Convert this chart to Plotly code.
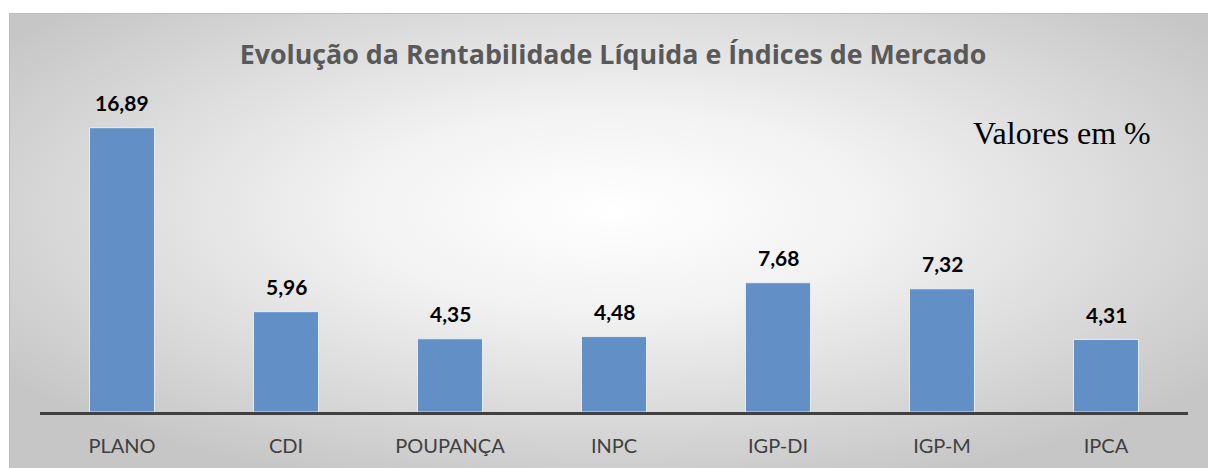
import base64
import plotly.graph_objects as go

categories = ["PLANO", "CDI", "POUPANÇA", "INPC", "IGP-DI", "IGP-M", "IPCA"]
values = [16.89, 5.96, 4.35, 4.48, 7.68, 7.32, 4.31]
title_text = "Evolução da Rentabilidade Líquida e Índices de Mercado"
note_text = "Valores em %"

W, H = 1208, 468
ML, MR, MT, MB = 40, 20, 109, 56
PW, PH = W - ML - MR, H - MT - MB

svg = f'''<svg xmlns="http://www.w3.org/2000/svg" width="{W}" height="{H}" viewBox="0 0 {W} {H}" preserveAspectRatio="none">
<defs><radialGradient id="g" cx="0.5" cy="0.42" r="0.62" fx="0.5" fy="0.42">
<stop offset="0" stop-color="#ffffff"/><stop offset="0.35" stop-color="#f2f2f2"/><stop offset="1" stop-color="#c6c6c6"/></radialGradient></defs>
<rect x="0" y="0" width="{W}" height="{H}" fill="#ffffff"/>
<rect x="9.5" y="13.5" width="{W}" height="{H}" fill="url(#g)" stroke="#bdbdbd" stroke-width="1"/>
</svg>'''
src = "data:image/svg+xml;base64," + base64.b64encode(svg.encode()).decode()

fig = go.Figure()
fig.add_trace(go.Bar(
    x=categories, y=values,
    marker=dict(color="#628fc6", line=dict(color="rgba(235,242,250,0.9)", width=1)),
    hoverinfo="skip",
))

for c, v in zip(categories, values):
    fig.add_annotation(x=c, y=v, text=f"<b>{v:.2f}</b>".replace(".", ","),
                       showarrow=False, yshift=25, yanchor="middle",
                       font=dict(family="Lato, 'Open Sans', sans-serif", size=21, color="#000000"))

fig.add_annotation(xref="paper", yref="paper", x=(1062 - ML) / PW, y=(MT + PH - 133) / PH,
                   text=note_text, showarrow=False, xanchor="center", yanchor="middle",
                   font=dict(family="'Liberation Serif', serif", size=32, color="#000000"))

fig.add_layout_image(dict(source=src, xref="paper", yref="paper",
                          x=-ML / PW, y=1 + MT / PH, sizex=W / PW, sizey=H / PH,
                          xanchor="left", yanchor="top", sizing="stretch", layer="below"))

fig.update_layout(
    width=W, height=H,
    margin=dict(l=ML, r=MR, t=MT, b=MB),
    paper_bgcolor="#ffffff", plot_bgcolor="rgba(0,0,0,0)",
    bargap=0.604,
    showlegend=False,
    title=dict(text=f"<b>{title_text}</b>", x=613 / W, xanchor="center", y=1 - 55 / H, yanchor="middle",
               font=dict(family="'Open Sans', sans-serif", size=26.8, color="#595959")),
    xaxis=dict(showline=True, linecolor="#404040", linewidth=3, ticks="", showgrid=False,
               tickfont=dict(family="Lato, 'Open Sans', sans-serif", size=20, color="#404040"),
               ticklabelstandoff=14, fixedrange=True),
    yaxis=dict(range=[0, 18], visible=False, showgrid=False, fixedrange=True),
)

fig.write_html("out.html", config={"displayModeBar": False},
               post_script="document.body.style.margin='0';document.body.style.overflow='hidden';")
